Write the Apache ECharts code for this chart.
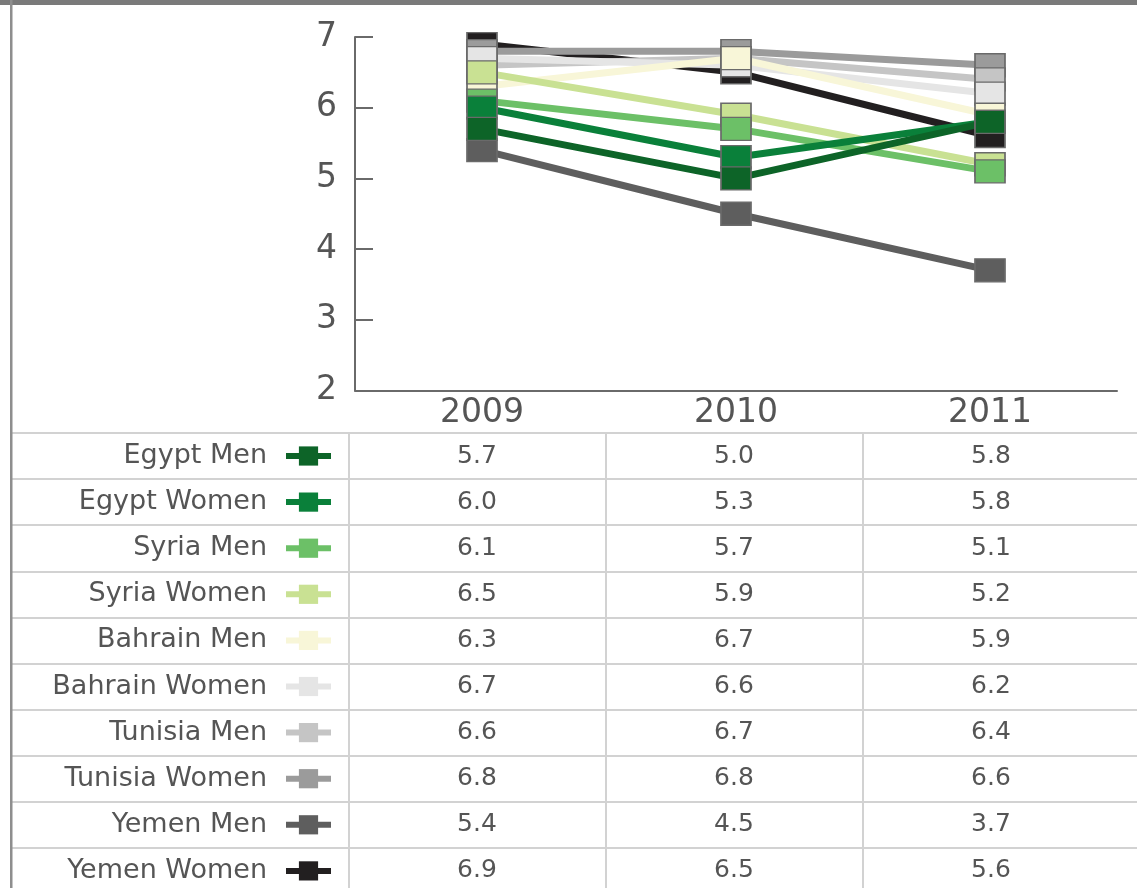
<!DOCTYPE html>
<html>
<head>
<meta charset="utf-8">
<script src="https://cdn.jsdelivr.net/npm/echarts@6/dist/echarts.min.js"></script>
<style>
html,body{margin:0;padding:0;background:#fff;overflow:hidden;}
#chart{width:1137px;height:894px;}
</style>
</head>
<body>
<div id="chart"></div>
<script>
// ---- data ----
const years = ['2009', '2010', '2011'];
const seriesNames = ['Egypt Men', 'Egypt Women', 'Syria Men', 'Syria Women', 'Bahrain Men',
  'Bahrain Women', 'Tunisia Men', 'Tunisia Women', 'Yemen Men', 'Yemen Women'];
const egyptMen = [5.7, 5.0, 5.8];
const egyptWomen = [6.0, 5.3, 5.8];
const syriaMen = [6.1, 5.7, 5.1];
const syriaWomen = [6.5, 5.9, 5.2];
const bahrainMen = [6.3, 6.7, 5.9];
const bahrainWomen = [6.7, 6.6, 6.2];
const tunisiaMen = [6.6, 6.7, 6.4];
const tunisiaWomen = [6.8, 6.8, 6.6];
const yemenMen = [5.4, 4.5, 3.7];
const yemenWomen = [6.9, 6.5, 5.6];
const yTicks = [2, 3, 4, 5, 6, 7];

const seriesValues = [egyptMen, egyptWomen, syriaMen, syriaWomen, bahrainMen,
  bahrainWomen, tunisiaMen, tunisiaWomen, yemenMen, yemenWomen];
const seriesColors = ['#0d6428', '#0a803a', '#6cc067', '#c9e193', '#f8f6d8',
  '#e5e5e5', '#c5c5c5', '#9b9b9b', '#5e5e5e', '#221f20'];

const FONT = 'DejaVu Sans';
const TXT = '#555555';
const AX = '#6a6a6a';
const GRIDC = '#d2d2d2';

// line series, drawn last-row first so the top rows sit on top
const lineSeries = [];
for (let i = seriesNames.length - 1; i >= 0; i--) {
  lineSeries.push({
    name: seriesNames[i],
    type: 'line',
    xAxisIndex: 0,
    yAxisIndex: 0,
    data: seriesValues[i],
    symbol: 'rect',
    symbolSize: [30, 23],
    lineStyle: { color: seriesColors[i], width: 7 },
    itemStyle: { color: seriesColors[i], borderColor: '#6a6a6a', borderWidth: 1.5 },
    emphasis: { disabled: true },
    animation: false,
    z: 3
  });
}

// table cells
const tableData = [];
seriesNames.forEach((n, i) => {
  seriesValues[i].forEach((v, j) => tableData.push([j, n, v]));
});

const chart = echarts.init(document.getElementById('chart'), null, { renderer: 'canvas' });
chart.setOption({
  backgroundColor: '#fff',
  animation: false,
  graphic: [
    { type: 'rect', left: 0, top: 0, shape: { width: 1137, height: 5 }, style: { fill: '#7a7a7a' }, z: 10 },
    { type: 'rect', left: 10, top: 0, shape: { width: 2.5, height: 894 }, style: { fill: '#8e8e8e' }, z: 10 }
  ],
  grid: [
    { left: 355, right: 20, top: 37, height: 353.5 },
    { left: 10, right: 0, top: 433, height: 461 }
  ],
  xAxis: [
    {
      gridIndex: 0, type: 'category', data: years, boundaryGap: true,
      axisLine: { lineStyle: { color: AX, width: 2 } },
      axisTick: { inside: true, length: 10, lineStyle: { color: AX, width: 2 }, interval: 0 },
      axisLabel: { fontFamily: FONT, fontSize: 33, color: TXT, margin: 6, interval: 0 },
      splitLine: { show: false }
    },
    {
      gridIndex: 1, type: 'value', min: -1.81712, max: 2.56809,
      axisLine: { show: false }, axisTick: { show: false }, axisLabel: { show: false },
      splitLine: { show: false }
    }
  ],
  yAxis: [
    {
      gridIndex: 0, type: 'value', min: yTicks[0], max: yTicks[yTicks.length - 1], interval: 1,
      axisLine: { show: true, lineStyle: { color: AX, width: 2 } },
      axisTick: { show: true, inside: true, length: 18, lineStyle: { color: AX, width: 2 } },
      axisLabel: { fontFamily: FONT, fontSize: 33, color: TXT, margin: 18 },
      splitLine: { show: false }
    },
    {
      gridIndex: 1, type: 'category', data: seriesNames, inverse: true, boundaryGap: true,
      axisLine: { show: false }, axisTick: { show: false, interval: 0 },
      axisLabel: {
        show: true, interval: 0, inside: true, align: 'right', margin: 257,
        fontFamily: FONT, fontSize: 27, color: TXT
      },
      splitLine: { show: true, interval: 0, lineStyle: { color: GRIDC, width: 2 } }
    }
  ],
  legend: {
    data: seriesNames,
    orient: 'vertical',
    left: 283,
    top: 446.4,
    padding: 0,
    itemWidth: 45,
    itemHeight: 24,
    itemGap: 26.9,
    selectedMode: false,
    formatter: () => '',
    lineStyle: { width: 6 },
    itemStyle: { borderWidth: 0 },
    textStyle: { fontFamily: FONT, fontSize: 12, lineHeight: 24 }
  },
  series: lineSeries.concat([{
    name: 'table',
    type: 'scatter',
    xAxisIndex: 1,
    yAxisIndex: 1,
    data: tableData,
    symbolSize: 1,
    itemStyle: { color: 'rgba(0,0,0,0)', opacity: 1 },
    label: {
      show: true, position: 'inside', fontFamily: FONT, fontSize: 25, color: '#555555',
      formatter: p => p.value[2].toFixed(1)
    },
    emphasis: { disabled: true },
    silent: true,
    markLine: {
      silent: true, symbol: ['none', 'none'], label: { show: false },
      lineStyle: { color: GRIDC, width: 2, type: 'solid' },
      emphasis: { disabled: true },
      data: [{ xAxis: -0.5 }, { xAxis: 0.5 }, { xAxis: 1.5 }]
    }
  }])
});
</script>
</body>
</html>
